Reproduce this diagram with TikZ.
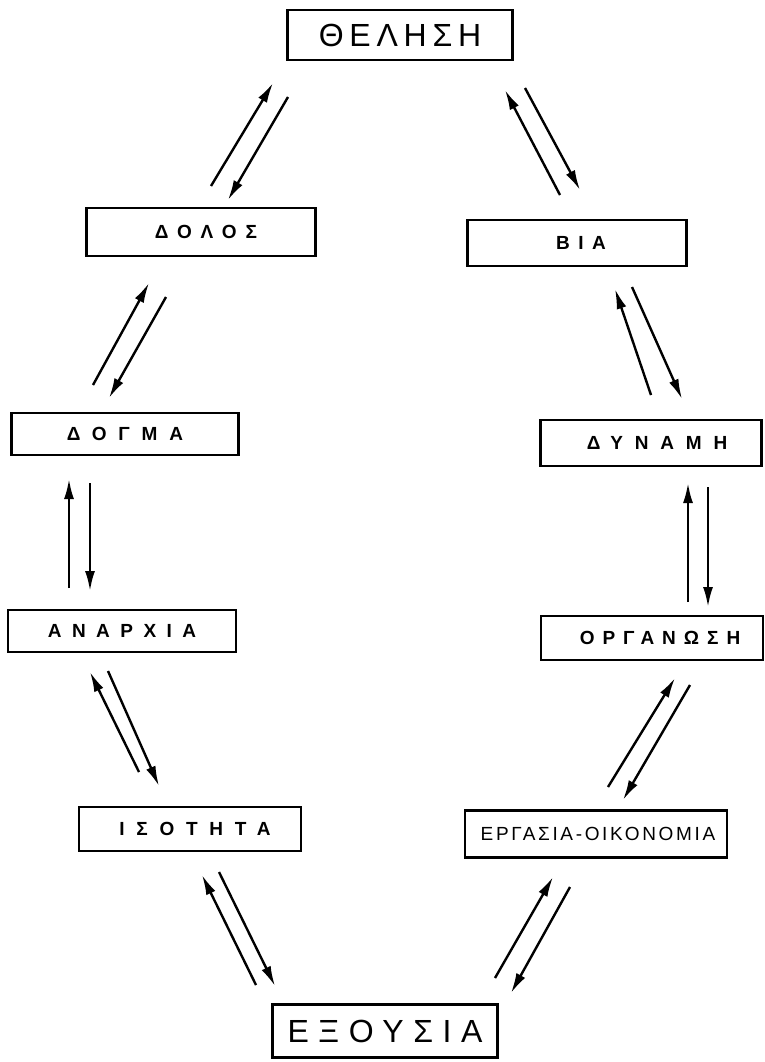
\documentclass[tikz,border=0pt]{standalone}
\usepackage{fontspec}
\setmainfont{Liberation Sans}
\usetikzlibrary{arrows.meta}
\newcommand{\smf}[1]{\fontsize{19}{21}\selectfont\bfseries\addfontfeature{LetterSpace=#1}}
\begin{document}
\begin{tikzpicture}[x=1pt,y=-1pt,
  box/.style={draw,line width=2.4pt,rectangle,inner sep=0pt,align=center},
  big/.style={box,font=\fontsize{32}{34}\selectfont\addfontfeature{LetterSpace=18}},
  arr/.style={line width=2.4pt,-{Latex[length=20pt,width=10pt]}}]
\useasboundingbox (0,0) rectangle (765,1062);
\node[big,minimum width=225pt,minimum height=50pt] (thel) at (400,35) {ΘΕΛΗΣΗ};
\node[box,minimum width=229pt,minimum height=48pt,font=\smf{48}] (dol) at (201,232) {\hspace{10pt}ΔΟΛΟΣ};
\node[box,minimum width=219pt,minimum height=46pt,font=\smf{45}] (via) at (577,243) {\hspace{8pt}ΒΙΑ};
\node[box,minimum width=227pt,minimum height=42pt,font=\smf{62}] (dog) at (125,434) {ΔΟΓΜΑ};
\node[box,minimum width=221pt,minimum height=46pt,font=\smf{62}] (dyn) at (651,443) {\hspace{12pt}ΔΥΝΑΜΗ};
\node[box,minimum width=228pt,minimum height=42pt,font=\smf{55}] (anar) at (122,631) {ΑΝΑΡΧΙΑ};
\node[box,minimum width=222pt,minimum height=44pt,font=\smf{42}] (org) at (652,638) {\hspace{16pt}ΟΡΓΑΝΩΣΗ};
\node[box,minimum width=222pt,minimum height=44pt,font=\smf{62}] (iso) at (190,829) {\hspace{10pt}ΙΣΟΤΗΤΑ};
\node[box,minimum width=262pt,minimum height=47pt,font=\fontsize{19}{21}\selectfont\addfontfeature{LetterSpace=14}] (erg) at (596,834) {\hspace{4pt}ΕΡΓΑΣΙΑ-ΟΙΚΟΝΟΜΙΑ};
\node[big,minimum width=225pt,minimum height=53pt,font=\fontsize{32}{34}\selectfont\addfontfeature{LetterSpace=30}] (exo) at (385,1031) {ΕΞΟΥΣΙΑ};
% arrow end points
\coordinate (a1u0) at (211,186); \coordinate (a1u1) at (273,83);
\coordinate (a1d0) at (288,97);  \coordinate (a1d1) at (228,200);
\coordinate (a2u0) at (560,195); \coordinate (a2u1) at (505,90);
\coordinate (a2d0) at (525,88);  \coordinate (a2d1) at (580,190);
\coordinate (a3u0) at (93,385);  \coordinate (a3u1) at (149,283);
\coordinate (a3d0) at (166,297); \coordinate (a3d1) at (109,398);
\coordinate (a4u0) at (651,395); \coordinate (a4u1) at (615,289);
\coordinate (a4d0) at (632,287); \coordinate (a4d1) at (682,399);
\coordinate (a5u0) at (69,588);  \coordinate (a5u1) at (69,479);
\coordinate (a5d0) at (90,483);  \coordinate (a5d1) at (90,591);
\coordinate (a6u0) at (688,602); \coordinate (a6u1) at (688,483);
\coordinate (a6d0) at (708,487); \coordinate (a6d1) at (708,607);
\coordinate (a7u0) at (139,772); \coordinate (a7u1) at (90,672);
\coordinate (a7d0) at (108,671); \coordinate (a7d1) at (159,786);
\coordinate (a8u0) at (608,787); \coordinate (a8u1) at (675,678);
\coordinate (a8d0) at (690,685); \coordinate (a8d1) at (623,800);
\coordinate (a9u0) at (256,985); \coordinate (a9u1) at (202,875);
\coordinate (a9d0) at (219,872); \coordinate (a9d1) at (275,986);
\coordinate (a10u0) at (495,978); \coordinate (a10u1) at (553,877);
\coordinate (a10d0) at (570,887); \coordinate (a10d1) at (511,993);
\foreach \i in {1,...,10}{
  \draw[arr] (a\i u0) -- (a\i u1);
  \draw[arr] (a\i d0) -- (a\i d1);
}
\end{tikzpicture}
\end{document}
